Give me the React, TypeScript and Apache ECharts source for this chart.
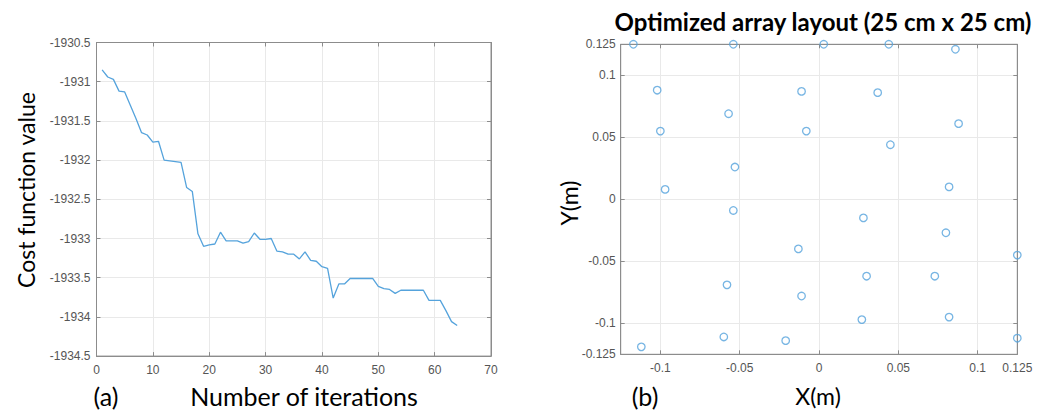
import React, { useEffect, useRef } from 'react';
import * as echarts from 'echarts';

// (a) cost function value per iteration
const costValues: number[] = [
  -1930.85, -1930.94, -1930.97, -1931.12, -1931.13, -1931.3, -1931.47, -1931.65,
  -1931.68, -1931.77, -1931.76, -1932.0, -1932.01, -1932.02, -1932.03, -1932.35,
  -1932.4, -1932.94, -1933.1, -1933.08, -1933.07, -1932.92, -1933.03, -1933.03,
  -1933.03, -1933.06, -1933.04, -1932.93, -1933.01, -1933.01, -1933.0, -1933.16,
  -1933.17, -1933.2, -1933.2, -1933.26, -1933.17, -1933.28, -1933.29, -1933.36,
  -1933.38, -1933.76, -1933.58, -1933.58, -1933.51, -1933.51, -1933.51, -1933.51,
  -1933.51, -1933.61, -1933.64, -1933.65, -1933.7, -1933.66, -1933.66, -1933.66,
  -1933.66, -1933.66, -1933.79, -1933.79, -1933.79, -1933.92, -1934.06, -1934.11,
];
const iterations: number[] = costValues.map((_, i) => i + 1);

// (b) optimized element positions (m)
const arrayX: number[] = [
  -0.117, -0.054, 0.003, 0.044, 0.086, -0.102, -0.011, 0.037, -0.057, -0.1, -0.008,
  0.088, 0.045, -0.053, -0.097, 0.082, -0.054, 0.028, 0.08, -0.013, 0.125, 0.03,
  0.073, -0.058, -0.011, 0.082, 0.027, -0.06, -0.021, 0.125, -0.112,
];
const arrayY: number[] = [
  0.125, 0.125, 0.125, 0.125, 0.121, 0.088, 0.087, 0.086, 0.069, 0.055, 0.055,
  0.061, 0.044, 0.026, 0.008, 0.01, -0.009, -0.015, -0.027, -0.04, -0.045, -0.062,
  -0.062, -0.069, -0.078, -0.095, -0.097, -0.111, -0.114, -0.112, -0.119,
];

const bTickX: number[] = [-0.1, -0.05, 0, 0.05, 0.1];
const bLabelX: number[] = [-0.1, -0.05, 0, 0.05, 0.1, 0.125];
const bTickY: number[] = [-0.1, -0.05, 0, 0.05, 0.1];
const bLabelY: number[] = [-0.125, -0.1, -0.05, 0, 0.05, 0.1, 0.125];

const titleB = 'Optimized array layout (25 cm x 25 cm)';
const xNameA = 'Number of iterations';
const yNameA = 'Cost function value';
const xNameB = 'X(m)';
const yNameB = 'Y(m)';

export default function App() {
  const ref = useRef<HTMLDivElement>(null);
  useEffect(() => {
    if (!ref.current) return;
    const chart = echarts.init(ref.current, null, { renderer: 'svg' });
    const blue = '#55a3dc';
    const axisGray = '#8c8c8c';
    const gridGray = '#e9e9e9';
    const labelColor = '#555555';
    const tickFont = { fontFamily: 'Liberation Sans', fontSize: 12, color: labelColor };
    const bigFont = '23px Lato';
    const xFont = '25px Lato';
    const fmt = (v: number) => String(Math.round(v * 1000) / 1000);
    const centered = { fill: '#000', align: 'center', verticalAlign: 'middle', textAlign: 'center', textVerticalAlign: 'middle' };

    const baseAxis = {
      axisLine: { show: true, onZero: false, lineStyle: { color: axisGray, width: 1 } },
      axisTick: { show: true, inside: true, length: 4, lineStyle: { color: axisGray } },
    };

    const option: any = {
      animation: false,
      backgroundColor: '#ffffff',
      grid: [
        { left: 96.5, top: 42.5, width: 394.5, height: 313.6, show: true, borderColor: axisGray, borderWidth: 1, backgroundColor: 'transparent' },
        { left: 620.7, top: 44.3, width: 396.6, height: 310, show: true, borderColor: axisGray, borderWidth: 1, backgroundColor: 'transparent' },
      ],
      xAxis: [
        {
          ...baseAxis, gridIndex: 0, type: 'value', min: 0, max: 70, interval: 10,
          axisLabel: { ...tickFont, margin: 8, formatter: fmt },
          splitLine: { show: true, lineStyle: { color: gridGray } },
        },
        {
          ...baseAxis, gridIndex: 0, type: 'value', position: 'top', min: 0, max: 70, interval: 10,
          axisLabel: { show: false }, splitLine: { show: false },
        },
        {
          ...baseAxis, gridIndex: 1, type: 'value', min: -0.125, max: 0.125,
          axisTick: { ...baseAxis.axisTick, customValues: bTickX },
          axisLabel: { ...tickFont, margin: 8, customValues: bLabelX, formatter: fmt },
          splitLine: { show: true, lineStyle: { color: gridGray } },
        },
        {
          ...baseAxis, gridIndex: 1, type: 'value', position: 'top', min: -0.125, max: 0.125,
          axisTick: { ...baseAxis.axisTick, customValues: bTickX },
          axisLabel: { show: false, customValues: bLabelX }, splitLine: { show: false },
        },
      ],
      yAxis: [
        {
          ...baseAxis, gridIndex: 0, type: 'value', min: -1934.5, max: -1930.5, interval: 0.5,
          axisLabel: { ...tickFont, margin: 6, formatter: fmt },
          splitLine: { show: true, lineStyle: { color: gridGray } },
        },
        {
          ...baseAxis, gridIndex: 0, type: 'value', position: 'right', min: -1934.5, max: -1930.5, interval: 0.5,
          axisLabel: { show: false }, splitLine: { show: false },
        },
        {
          ...baseAxis, gridIndex: 1, type: 'value', min: -0.125, max: 0.125,
          axisTick: { ...baseAxis.axisTick, customValues: bTickY },
          axisLabel: { ...tickFont, margin: 5, customValues: bLabelY, formatter: fmt },
          splitLine: { show: true, lineStyle: { color: gridGray } },
        },
        {
          ...baseAxis, gridIndex: 1, type: 'value', position: 'right', min: -0.125, max: 0.125,
          axisTick: { ...baseAxis.axisTick, customValues: bTickY },
          axisLabel: { show: false, customValues: bLabelY }, splitLine: { show: false },
        },
      ],
      series: [
        {
          type: 'line', xAxisIndex: 0, yAxisIndex: 0,
          data: costValues.map((v, i) => [iterations[i], v]),
          showSymbol: false, symbol: 'none',
          lineStyle: { color: blue, width: 1.3 },
          itemStyle: { color: blue },
        },
        {
          type: 'scatter', xAxisIndex: 2, yAxisIndex: 2,
          data: arrayX.map((x, i) => [x, arrayY[i]]),
          symbol: 'circle', symbolSize: 7.5, clip: false,
          itemStyle: { color: 'rgba(0,0,0,0)', borderColor: blue, borderWidth: 1.3 },
        },
      ],
      graphic: [
        { type: 'text', x: 823, y: 21, style: { ...centered, text: titleB, font: 'bold 24px Lato' } },
        { type: 'text', x: 26, y: 190, rotation: Math.PI / 2, style: { ...centered, text: yNameA, font: bigFont } },
        { type: 'text', x: 304, y: 396, style: { ...centered, text: xNameA, font: xFont } },
        { type: 'text', x: 106, y: 396, style: { ...centered, text: '(a)', font: xFont } },
        { type: 'text', x: 569, y: 203, rotation: Math.PI / 2, style: { ...centered, text: yNameB, font: bigFont } },
        { type: 'text', x: 818, y: 396, style: { ...centered, text: xNameB, font: bigFont } },
        { type: 'text', x: 645, y: 396, style: { ...centered, text: '(b)', font: xFont } },
      ],
    };
    chart.setOption(option);
    return () => chart.dispose();
  }, []);
  return <div ref={ref} style={{ position: 'fixed', left: 0, top: 0, width: 1051, height: 412 }} />;
}
